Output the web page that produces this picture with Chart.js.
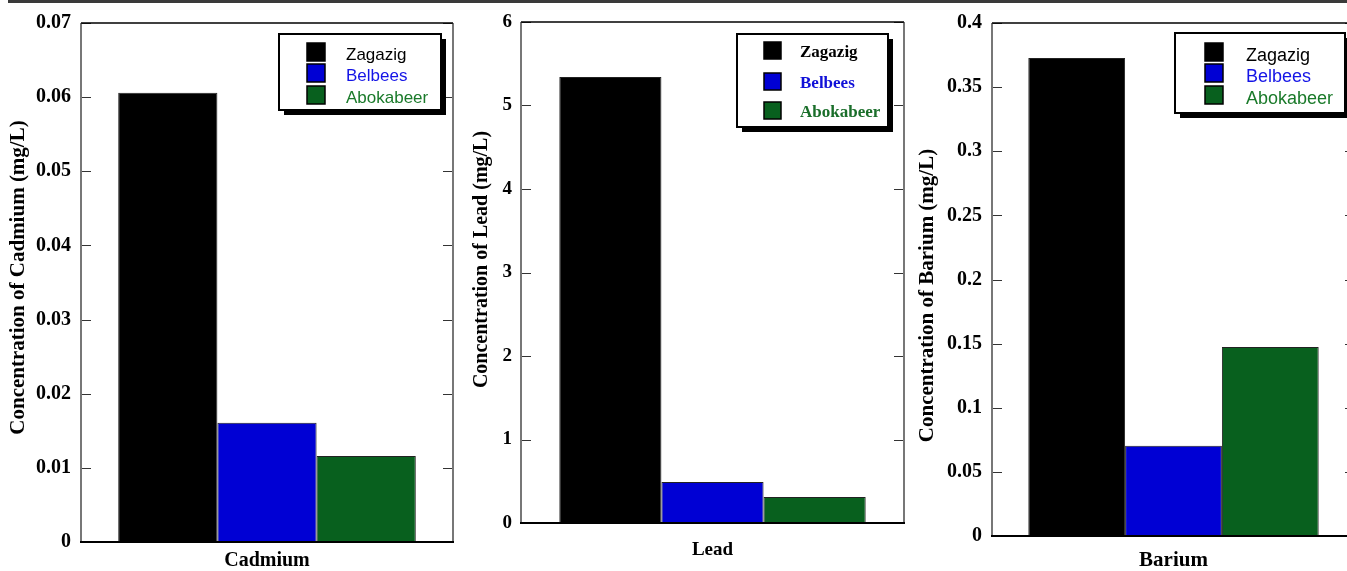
<!DOCTYPE html>
<html><head><meta charset="utf-8">
<script src="https://cdn.jsdelivr.net/npm/chart.js@4/dist/chart.umd.min.js"></script>
<style>
html,body{margin:0;padding:0;background:#fff;width:1347px;height:571px;overflow:hidden;}
body{position:relative;}
.topline{position:absolute;left:8px;top:0;width:1339px;height:3px;background:#3a3a3a;}
.w{position:absolute;top:0;height:571px;}
canvas{display:block;}
</style></head><body>
<div class="topline"></div>
<div class="w" style="left:0;width:462px"><canvas id="c1" width="462" height="571"></canvas></div>
<div class="w" style="left:462px;width:450px"><canvas id="c2" width="450" height="571"></canvas></div>
<div class="w" style="left:905px;width:460px"><canvas id="c3" width="460" height="571"></canvas></div>
<script>
// ---- data ----
const sites = ['Zagazig', 'Belbees', 'Abokabeer'];
const metals = ['Cadmium', 'Lead', 'Barium'];
const cadmiumValues = [0.0606, 0.0161, 0.0116];
const leadValues = [5.34, 0.49, 0.31];
const bariumValues = [0.3727, 0.0704, 0.1474];
const cadmiumTicks = ['0', '0.01', '0.02', '0.03', '0.04', '0.05', '0.06', '0.07'];
const leadTicks = ['0', '1', '2', '3', '4', '5', '6'];
const bariumTicks = ['0', '0.05', '0.1', '0.15', '0.2', '0.25', '0.3', '0.35', '0.4'];
const yTitles = ['Concentration of Cadmium (mg/L)', 'Concentration of Lead (mg/L)', 'Concentration of Barium (mg/L)'];

// ---- styles ----
const barColors = ['#000000', '#0000d4', '#08601e'];

const framePlugin = {
  id: 'frame',
  afterDatasetsDraw(chart) {
    const {ctx, chartArea: a} = chart;
    const y = chart.scales.y;
    ctx.save();
    ctx.strokeStyle = '#333';
    ctx.lineWidth = 1;
    y.ticks.forEach(t => {
      const py = Math.round(y.getPixelForValue(t.value)) + 0.5;
      ctx.beginPath();
      ctx.moveTo(a.left, py); ctx.lineTo(a.left + 10, py);
      ctx.moveTo(a.right, py); ctx.lineTo(a.right - 10, py);
      ctx.stroke();
    });
    ctx.lineWidth = 2;
    ctx.strokeStyle = '#777';
    ctx.beginPath();
    ctx.moveTo(a.left, a.top); ctx.lineTo(a.left, a.bottom);
    ctx.moveTo(a.right, a.top); ctx.lineTo(a.right, a.bottom);
    ctx.stroke();
    ctx.strokeStyle = '#000';
    ctx.lineWidth = 1.5;
    ctx.beginPath();
    ctx.moveTo(a.left, a.top); ctx.lineTo(a.right, a.top);
    ctx.stroke();
    ctx.lineWidth = 2;
    ctx.beginPath();
    ctx.moveTo(a.left - 1, a.bottom); ctx.lineTo(a.right + 1, a.bottom);
    ctx.stroke();
    ctx.restore();
  }
};

const yTitlePlugin = {
  id: 'yTitle',
  afterDraw(chart, args, o) {
    const {ctx, chartArea: a} = chart;
    ctx.save();
    ctx.translate(o.x, (a.top + a.bottom) / 2 + o.dy);
    ctx.rotate(-Math.PI / 2);
    ctx.font = o.font;
    ctx.fillStyle = '#000';
    ctx.textAlign = 'center';
    ctx.textBaseline = 'middle';
    ctx.fillText(o.text, 0, 0);
    ctx.restore();
  }
};

const boxLegendPlugin = {
  id: 'boxLegend',
  afterDraw(chart, args, o) {
    const {ctx, chartArea: a} = chart;
    const x = a.right - o.rightInset - o.w;
    const y = o.top;
    ctx.save();
    ctx.fillStyle = '#000';
    ctx.fillRect(x + 5, y + 5, o.w, o.h);
    ctx.fillStyle = '#fff';
    ctx.fillRect(x, y, o.w, o.h);
    ctx.strokeStyle = '#000';
    ctx.lineWidth = 2;
    ctx.strokeRect(x, y, o.w, o.h);
    ctx.font = o.font;
    if (o.letterSpacing) ctx.letterSpacing = o.letterSpacing;
    ctx.textBaseline = 'alphabetic';
    ctx.textAlign = 'left';
    chart.data.datasets.forEach((ds, i) => {
      const sy = y + o.rows[i];
      ctx.fillStyle = ds.backgroundColor;
      ctx.fillRect(x + o.swatchX, sy, o.swatch, o.swatch);
      ctx.lineWidth = 1.5;
      ctx.strokeStyle = '#000';
      ctx.strokeRect(x + o.swatchX, sy, o.swatch, o.swatch);
      ctx.fillStyle = o.textColors[i];
      ctx.fillText(ds.label, x + o.textX, sy + o.baseline);
    });
    ctx.restore();
  }
};

function makeChart(id, idx, values, tickLabels, max, step, c) {
  return new Chart(document.getElementById(id), {
    type: 'bar',
    data: {
      labels: [metals[idx]],
      datasets: sites.map((s, i) => ({
        label: s,
        data: [values[i]],
        backgroundColor: barColors[i],
        borderColor: '#222',
        borderWidth: 1,
        categoryPercentage: 0.8,
        barPercentage: 1.0
      }))
    },
    options: {
      responsive: false,
      animation: false,
      events: [],
      layout: {padding: {top: c.padTop, right: c.padRight, left: 0, bottom: 0}},
      plugins: {
        legend: {display: false},
        tooltip: {enabled: false},
        boxLegend: c.legend,
        yTitle: {text: yTitles[idx], x: c.yTitleX, dy: c.yTitleDy,
          font: 'bold ' + c.yTitleSize + 'px "Liberation Serif"'}
      },
      scales: {
        x: {
          grid: {display: false},
          border: {display: false},
          ticks: {display: false},
          title: {
            display: true, text: metals[idx], color: '#000',
            font: {family: 'Liberation Serif', weight: 'bold', size: c.xTitleSize, lineHeight: 1},
            padding: {top: 0, bottom: c.xTitlePad}
          },
          afterFit(s) { s.height = c.xHeight; }
        },
        y: {
          min: 0, max: max,
          grid: {display: false, drawTicks: false},
          border: {display: false},
          ticks: {
            stepSize: step, padding: c.tickPad, color: '#000',
            font: {family: 'Liberation Serif', weight: 'bold', size: c.tickSize},
            callback: (v, i) => tickLabels[i]
          },
          title: {display: false},
          afterFit(s) { s.width = c.yWidth; }
        }
      }
    },
    plugins: [framePlugin, boxLegendPlugin, yTitlePlugin]
  });
}

makeChart('c1', 0, cadmiumValues, cadmiumTicks, 0.07, 0.01, {
  padTop: 23, padRight: 9, xHeight: 29, yWidth: 81,
  xTitleSize: 20, xTitlePad: 0, yTitleSize: 21, yTitleX: 19, yTitleDy: -5, tickSize: 20, tickPad: 10,
  legend: {rightInset: 12, top: 34, w: 162, h: 76, swatchX: 28, swatch: 18, textX: 67,
    rows: [9, 30, 52], baseline: 16.5, font: '17px "Liberation Sans"',
    textColors: ['#000000', '#1414e6', '#1a7a2a']}
});
makeChart('c2', 1, leadValues, leadTicks, 6, 1, {
  padTop: 22, padRight: 8, xHeight: 48, yWidth: 59,
  xTitleSize: 19, xTitlePad: 11, yTitleSize: 20, yTitleX: 20, yTitleDy: -13, tickSize: 19, tickPad: 9,
  legend: {rightInset: 16, top: 34, w: 151, h: 93, swatchX: 27, swatch: 17, textX: 63,
    rows: [8, 39, 68], baseline: 15, font: 'bold 17px "Liberation Serif"',
    textColors: ['#000000', '#1010d8', '#1a6e2a']}
});
makeChart('c3', 2, bariumValues, bariumTicks, 0.4, 0.05, {
  padTop: 23, padRight: 10, xHeight: 35, yWidth: 87,
  xTitleSize: 21, xTitlePad: 0, yTitleSize: 21, yTitleX: 23, yTitleDy: 16, tickSize: 20, tickPad: 10,
  legend: {rightInset: 10, top: 33, w: 170, h: 80, swatchX: 30, swatch: 18, textX: 71,
    rows: [10, 31, 53], baseline: 18, font: '18px "Liberation Sans"',
    textColors: ['#000000', '#1414e6', '#1a7a2a']}
});
</script>
</body></html>
